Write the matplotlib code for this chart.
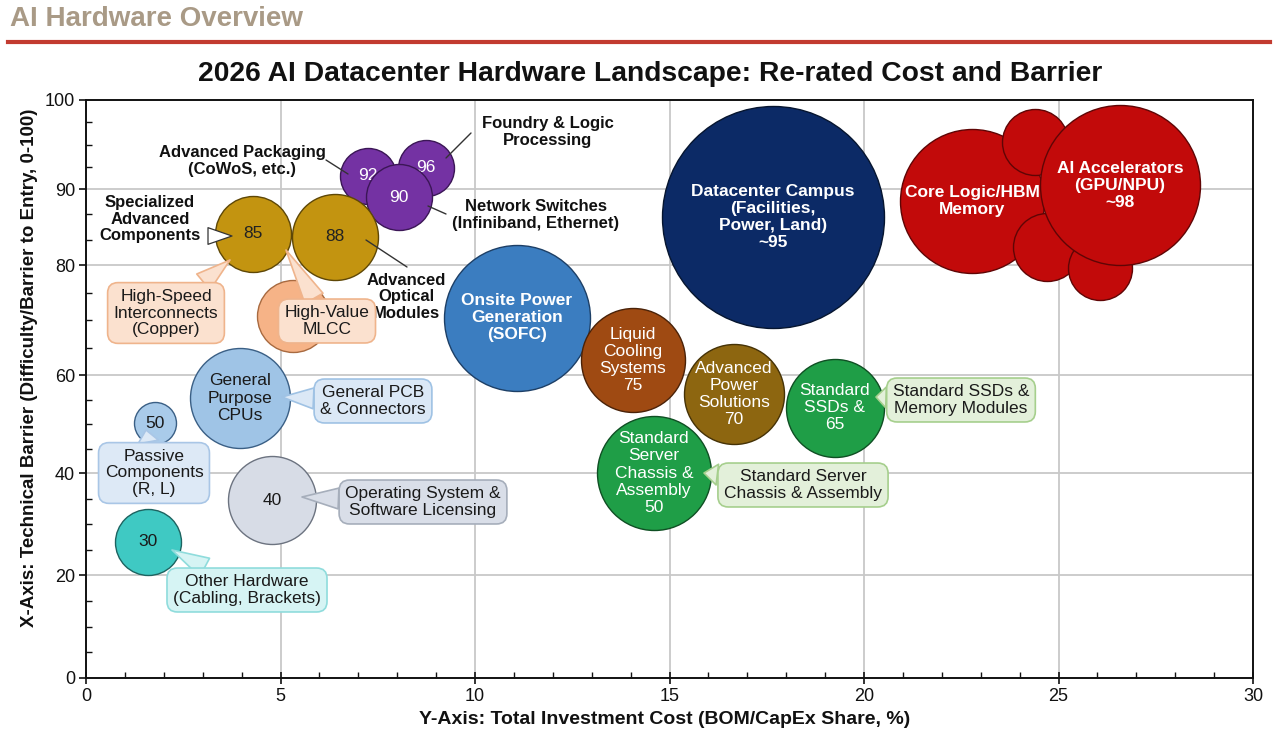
import numpy as np
import matplotlib
matplotlib.use("Agg")
import matplotlib.pyplot as plt
from matplotlib.ticker import FixedLocator, MultipleLocator
from matplotlib.lines import Line2D

plt.rcParams['font.family'] = ['Liberation Sans', 'DejaVu Sans']

# ---------------- data ----------------
segments = ["Advanced Packaging", "Foundry & Logic", "Network Switches",
            "Specialized Advanced Components", "Advanced Optical Modules",
            "High-Value MLCC", "Onsite Power Generation", "Liquid Cooling",
            "Advanced Power", "Standard SSDs", "Standard Server Chassis",
            "Datacenter Campus", "Core Logic/HBM Memory", "HBM stack a",
            "HBM stack b", "HBM stack c", "AI Accelerators",
            "General Purpose CPUs", "Passive Components", "Operating System",
            "Other Hardware"]
cost_share = [7.25, 8.74, 8.05, 4.29, 6.40, 5.32, 11.08, 14.06, 16.66, 19.25,
              14.60, 17.66, 22.78, 24.40, 24.70, 26.07, 26.58, 3.96, 1.77,
              4.78, 1.59]
barrier = [91.5, 92.4, 88.9, 84.1, 83.7, 70.7, 70.4, 62.7, 56.1, 53.3, 40.0,
           86.3, 88.4, 95.3, 82.4, 79.5, 90.4, 55.3, 50.2, 34.7, 26.5]
bubble_size = [28, 28, 33, 38, 43, 36, 73, 52, 50, 49, 57, 111, 72, 33, 34,
               32, 80, 50, 21, 44, 33]
inner_labels = ["92", "96", "90", "85", "88", "", "Onsite Power\nGeneration\n(SOFC)",
                "Liquid\nCooling\nSystems\n75", "Advanced\nPower\nSolutions\n70",
                "Standard\nSSDs &\n65", "Standard\nServer\nChassis &\nAssembly\n50",
                "Datacenter Campus\n(Facilities,\nPower, Land)\n~95",
                "Core Logic/HBM\nMemory", "", "", "", "AI Accelerators\n(GPU/NPU)\n~98",
                "General\nPurpose\nCPUs", "50", "40", "30"]
y_tick_values = [0, 20, 40, 60, 80, 90, 100]
x_tick_values = [0, 5, 10, 15, 20, 25, 30]

# ---------------- styles ----------------
fill = ["#7432a3", "#7432a3", "#7432a3", "#c39410", "#c39410", "#f6b387",
        "#3b7dc0", "#9f4a12", "#8d6610", "#1f9e47", "#1f9e47", "#0c2a66",
        "#c20a0a", "#c20a0a", "#c20a0a", "#c20a0a", "#c20a0a",
        "#9fc4e6", "#a9cbea", "#d7dce6", "#3fc9c3"]
edge = ["#3b1656", "#3b1656", "#3b1656", "#5e4706", "#5e4706", "#a86a40",
        "#1d3f66", "#4a2208", "#453206", "#0f4f23", "#0f4f23", "#06152f",
        "#5f0505", "#5f0505", "#5f0505", "#5f0505", "#5f0505",
        "#3a5f85", "#3a5f85", "#6c7380", "#1d6360"]
txt_color = ["white", "white", "white", "#222222", "#222222", "#222222",
             "white", "white", "white", "white", "white", "white",
             "white", "white", "white", "white", "white",
             "#1a1a1a", "#1a1a1a", "#1a1a1a", "#1a1a1a"]
txt_bold = [False, False, False, False, False, False, True, False, False,
            False, False, True, True, False, False, False, True, False,
            False, False, False]

W, H = 1278, 743
fig = plt.figure(figsize=(W / 100, H / 100), dpi=100)
fig.patch.set_facecolor("white")
AX_L, AX_R, AX_T, AX_B = 86, 1253, 100, 678
ax = fig.add_axes([AX_L / W, (H - AX_B) / H, (AX_R - AX_L) / W, (AX_B - AX_T) / H])

# non-uniform y axis spacing as in the reference
tick_spacing = [0, 103, 205, 303, 413, 489, 578]


def fwd(v):
    return np.interp(v, y_tick_values, tick_spacing)


def inv(v):
    return np.interp(v, tick_spacing, y_tick_values)


ax.set_yscale("function", functions=(fwd, inv))
ax.set_xlim(0, 30)
ax.set_ylim(0, 100)
ax.xaxis.set_major_locator(FixedLocator(x_tick_values))
ax.xaxis.set_minor_locator(MultipleLocator(1))
ax.yaxis.set_major_locator(FixedLocator(y_tick_values))
ax.yaxis.set_minor_locator(FixedLocator([5, 10, 15, 25, 30, 35, 45, 50, 55, 65, 70,
                                         75, 83.33, 86.67, 92.5, 95, 97.5]))
ax.yaxis.set_major_formatter(plt.FuncFormatter(lambda v, p: f"{v:g}"))
ax.grid(True, which="major", color="#c8c8c8", lw=1.3)
ax.set_axisbelow(True)
for s in ax.spines.values():
    s.set_color("#111111")
    s.set_linewidth(1.4)
ax.tick_params(which="major", direction="out", length=5, width=1.2,
               labelsize=13, pad=3, colors="#111111")
ax.tick_params(axis="x", which="major", direction="inout", length=8)
ax.tick_params(which="minor", direction="in", length=4, width=1.0, colors="#111111")


def af(px, py):
    return ((px - AX_L) / (AX_R - AX_L), (AX_B - py) / (AX_B - AX_T))


# ---------------- bubbles ----------------
for i in range(len(segments)):
    z = 3 + i * 0.1
    d = 2 * bubble_size[i] * 0.72
    ax.scatter([cost_share[i]], [barrier[i]], s=d ** 2, c=fill[i],
               edgecolors=edge[i], linewidths=1.0, zorder=z)
    if inner_labels[i]:
        ax.text(cost_share[i], barrier[i], inner_labels[i], ha="center",
                va="center", fontsize=12.5, color=txt_color[i],
                fontweight="bold" if txt_bold[i] else "normal",
                linespacing=1.18, zorder=z + 0.05)

# ---------------- bold callouts with leader lines ----------------
bold_callouts = [
    ("Foundry & Logic\nProcessing", (548, 132), (471, 133), (446, 158)),
    ("Advanced Packaging\n(CoWoS, etc.)", (242, 161), (326, 160), (348, 174)),
    ("Network Switches\n(Infiniband, Ethernet)", (536, 215), (446, 214), (428, 206)),
    ("Advanced\nOptical\nModules", (406, 297), (407, 267), (366, 240)),
]
for text, tpos, p0, p1 in bold_callouts:
    ax.text(*af(*tpos), text, transform=ax.transAxes, ha="center", va="center",
            fontsize=12, fontweight="bold", color="#111111", linespacing=1.15,
            zorder=10)
    ax.annotate("", xy=af(*p1), xytext=af(*p0), xycoords="axes fraction",
                textcoords="axes fraction",
                arrowprops=dict(arrowstyle="-", color="#333333", lw=1.0,
                                shrinkA=0, shrinkB=0),
                zorder=10)

ax.text(*af(150, 219), "Specialized\nAdvanced\nComponents", transform=ax.transAxes,
        ha="center", va="center", fontsize=12, fontweight="bold",
        color="#111111", linespacing=1.15, zorder=10)
ax.annotate("", xy=af(232, 236), xytext=af(208, 236), xycoords="axes fraction",
            textcoords="axes fraction",
            arrowprops=dict(arrowstyle="wedge,tail_width=1.2,shrink_factor=0.5",
                            fc="white", ec="#333333", lw=0.9, shrinkA=0, shrinkB=0),
            zorder=10)

# ---------------- boxed callouts ----------------
boxed = [
    ("High-Speed\nInterconnects\n(Copper)", (166, 313), (230, 260), "#fbe1cf", "#efb48c"),
    ("High-Value\nMLCC", (327, 321), (286, 250), "#fbe1cf", "#efb48c"),
    ("General PCB\n& Connectors", (373, 401), (282, 397), "#dbe8f6", "#9fc2e4"),
    ("Passive\nComponents\n(R, L)", (154, 473), (146, 430), "#dde9f6", "#a9c6e6"),
    ("Operating System &\nSoftware Licensing", (423, 502), (302, 497), "#d9dee8", "#a6aebb"),
    ("Other Hardware\n(Cabling, Brackets)", (247, 590), (172, 550), "#d6f4f4", "#8fdcdc"),
    ("Standard Server\nChassis & Assembly", (803, 485), (704, 473), "#e3f0da", "#a6cf8d"),
    ("Standard SSDs &\nMemory Modules", (961, 400), (876, 397), "#e3f0da", "#a6cf8d"),
]
for k, (text, tpos, target, fc, ec) in enumerate(boxed):
    ax.annotate(text, xy=af(*target), xytext=af(*tpos), xycoords="axes fraction",
                textcoords="axes fraction", ha="center", va="center",
                fontsize=12.5, color="#1a1a1a", linespacing=1.15,
                bbox=dict(boxstyle="round,pad=0.35,rounding_size=0.6",
                          fc=fc, ec=ec, lw=1.2),
                arrowprops=dict(arrowstyle="wedge,tail_width=1.2,shrink_factor=0.5",
                                fc=fc, ec=ec, lw=1.2, shrinkA=0, shrinkB=0),
                zorder=12 + k * 0.1)

# ---------------- labels / header ----------------
fig.text(30 / W, 1 - 368 / H,
         "X-Axis: Technical Barrier (Difficulty/Barrier to Entry, 0-100)",
         rotation=90, ha="center", va="center", fontsize=13.5, fontweight="bold",
         color="#111111")
fig.text(665 / W, 1 - 719 / H, "Y-Axis: Total Investment Cost (BOM/CapEx Share, %)",
         ha="center", va="center", fontsize=14, fontweight="bold", color="#111111")
fig.text(650 / W, 1 - 74 / H,
         "2026 AI Datacenter Hardware Landscape: Re-rated Cost and Barrier",
         ha="center", va="center", fontsize=20.3, fontweight="bold", color="#111111")
fig.text(10 / W, 1 - 19 / H, "AI Hardware Overview", ha="left", va="center",
         fontsize=20, fontweight="bold", color="#a99a86")
fig.add_artist(Line2D([8 / W, 1270 / W], [1 - 42 / H, 1 - 42 / H],
                      color="#c23b30", lw=3, transform=fig.transFigure))

fig.savefig("out.png", dpi=100)
